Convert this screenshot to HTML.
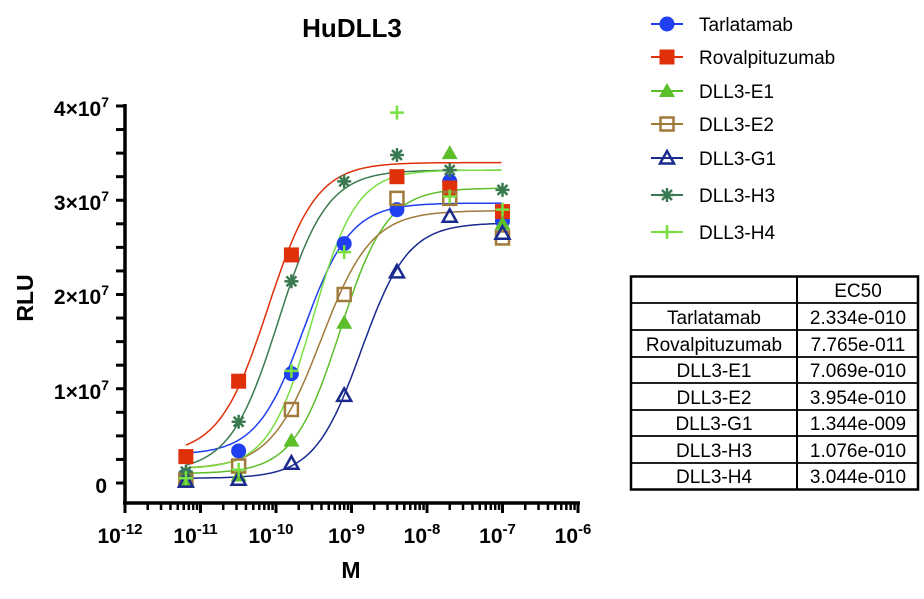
<!DOCTYPE html>
<html><head><meta charset="utf-8"><style>
body{margin:0;background:#fff;width:924px;height:594px;overflow:hidden;font-family:"Liberation Sans",Arial,sans-serif}
</style></head><body>
<svg id="s" width="924" height="594" xmlns="http://www.w3.org/2000/svg" font-family="Liberation Sans, Arial, sans-serif">
<text x="352" y="37" font-size="26" font-weight="bold" text-anchor="middle">HuDLL3</text>
<g id="axes" stroke="#000" stroke-width="3.5" fill="none"></g>
<g font-size="21" font-weight="bold" text-anchor="end">
<text x="109" y="116">4×10<tspan dy="-9" font-size="14">7</tspan></text>
<text x="109" y="210">3×10<tspan dy="-9" font-size="14">7</tspan></text>
<text x="109" y="304">2×10<tspan dy="-9" font-size="14">7</tspan></text>
<text x="109" y="399">1×10<tspan dy="-9" font-size="14">7</tspan></text>
<text x="107" y="493">0</text>
</g>
<text transform="translate(33,298) rotate(-90)" font-size="23" font-weight="bold" text-anchor="middle">RLU</text>
<g font-size="21" font-weight="bold" text-anchor="middle" id="xl"></g>
<text x="351" y="578" font-size="23" font-weight="bold" text-anchor="middle">M</text>
<g id="plot"></g>
<g id="leg" font-size="19">
<text x="699" y="31">Tarlatamab</text>
<text x="699" y="64">Rovalpituzumab</text>
<text x="699" y="98">DLL3-E1</text>
<text x="699" y="131">DLL3-E2</text>
<text x="699" y="165">DLL3-G1</text>
<text x="699" y="202">DLL3-H3</text>
<text x="699" y="239">DLL3-H4</text>
</g>
<g stroke="#000" fill="none">
<rect x="631" y="276.5" width="287" height="213" stroke-width="2.5"/>
<line x1="797" y1="276" x2="797" y2="490" stroke-width="2"/>
<path d="M631 303H918M631 330H918M631 357H918M631 383H918M631 410H918M631 436H918M631 463H918" stroke-width="1.8"/>
</g>
<g font-size="19" text-anchor="middle">
<text x="858" y="297">EC50</text>
<text x="714" y="324">Tarlatamab</text><text x="858" y="324">2.334e-010</text>
<text x="714" y="351">Rovalpituzumab</text><text x="858" y="351">7.765e-011</text>
<text x="714" y="377">DLL3-E1</text><text x="858" y="377">7.069e-010</text>
<text x="714" y="404">DLL3-E2</text><text x="858" y="404">3.954e-010</text>
<text x="714" y="430">DLL3-G1</text><text x="858" y="430">1.344e-009</text>
<text x="714" y="457">DLL3-H3</text><text x="858" y="457">1.076e-010</text>
<text x="714" y="483">DLL3-H4</text><text x="858" y="483">3.044e-010</text>
</g>
</svg>
<script>
var NS="http://www.w3.org/2000/svg";
function el(p,t,a){var e=document.createElementNS(NS,t);for(var k in a)e.setAttribute(k,a[k]);p.appendChild(e);return e;}
var X0=125,DX=75.5,Y0=483,DY=94.25;
function X(l){return X0+(l+12)*DX;}function Y(v){return Y0-v*DY;}
var ax=document.getElementById('axes');
el(ax,'path',{d:"M125 104V505M123 503H580"});
for(var i=0;i<=16;i++){var y=Y0-i*DY/4;el(ax,'line',{x1:116,x2:125,y1:y,y2:y,"stroke-width":3});}
var xl=document.getElementById('xl');
for(var d=-12;d<=-6;d++){var x=X(d);el(ax,'line',{x1:x,x2:x,y1:503,y2:513,"stroke-width":3});
 var t=el(xl,'text',{x:x-5,y:543});t.textContent="10";var s=el(t,'tspan',{dy:-9,"font-size":15});s.textContent=String(d);
 if(d<-6)for(var m=2;m<=9;m++){var xx=x+Math.log10(m)*DX;el(ax,'line',{x1:xx,x2:xx,y1:503,y2:510,"stroke-width":2.5});}}
var xs=[6.4e-12,3.2e-11,1.6e-10,8e-10,4e-9,2e-8,1e-7].map(Math.log10);
var S=[
 {c:"#1f3ff0",m:"circle",bot:0.3,top:2.97,ec:2.334e-10,h:1.4,d:[0.08,0.34,1.16,2.54,2.9,3.2,2.78]},
 {c:"#e0300a",m:"square",bot:0.3,top:3.40,ec:7.765e-11,h:1.35,d:[0.28,1.08,2.42,null,3.25,3.13,2.88]},
 {c:"#5cbf2a",m:"tri",bot:0.1,top:3.13,ec:7.069e-10,h:1.4,d:[0.02,0.08,0.45,1.7,null,3.5,2.75]},
 {c:"#a07a3a",m:"osq",bot:0.15,top:2.89,ec:3.954e-10,h:1.3,d:[0.03,0.18,0.78,2.0,3.02,3.02,2.6]},
 {c:"#1a2a8f",m:"otri",bot:0.05,top:2.76,ec:1.344e-9,h:1.4,d:[0.02,0.04,0.21,0.93,2.24,2.83,2.65]},
 {c:"#3b7a50",m:"ast",bot:0.12,top:3.32,ec:1.076e-10,h:1.35,d:[0.12,0.65,2.14,3.2,3.48,3.32,3.11]},
 {c:"#78e040",m:"plus",bot:0.15,top:3.32,ec:3.044e-10,h:1.5,d:[0.05,0.14,1.19,2.45,3.93,3.04,2.9]}];
var P=document.getElementById('plot');
function mk(g,s,x,y){var c=s.c;
 if(s.m=="circle")el(g,'circle',{cx:x,cy:y,r:7.5,fill:c});
 else if(s.m=="square")el(g,'rect',{x:x-7.5,y:y-7.5,width:15,height:15,fill:c});
 else if(s.m=="osq")el(g,'rect',{x:x-6.5,y:y-6.5,width:13,height:13,fill:"none",stroke:c,"stroke-width":2.5});
 else if(s.m=="tri")el(g,'path',{d:"M"+x+" "+(y-8)+"L"+(x+8)+" "+(y+6)+"L"+(x-8)+" "+(y+6)+"Z",fill:c});
 else if(s.m=="otri")el(g,'path',{d:"M"+x+" "+(y-7)+"L"+(x+7)+" "+(y+5.5)+"L"+(x-7)+" "+(y+5.5)+"Z",fill:"none",stroke:c,"stroke-width":2.5});
 else if(s.m=="ast"){for(var a=0;a<4;a++){var an=a*Math.PI/4,dx=7*Math.cos(an),dy=7*Math.sin(an);el(g,'line',{x1:x-dx,y1:y-dy,x2:x+dx,y2:y+dy,stroke:c,"stroke-width":2.5});}}
 else {el(g,'path',{d:"M"+(x-7)+" "+y+"H"+(x+7)+"M"+x+" "+(y-7)+"V"+(y+7),stroke:c,"stroke-width":2.5});}}
S.forEach(function(s){var le=Math.log10(s.ec),d="";
 for(var l=xs[0];l<=-7.0001+0.0001;l+=0.02){var v=s.bot+(s.top-s.bot)/(1+Math.pow(10,(le-l)*s.h));d+=(d?"L":"M")+X(l).toFixed(1)+" "+Y(v).toFixed(1);}
 el(P,'path',{d:d,fill:"none",stroke:s.c,"stroke-width":1.5});});
S.forEach(function(s){s.d.forEach(function(v,i){if(v!=null)mk(P,s,X(xs[i]),Y(v));});});
var LG=document.getElementById('leg'),ly=[24,57,91,124,158,195,232];
S.forEach(function(s,i){el(LG,'line',{x1:651,x2:683,y1:ly[i],y2:ly[i],stroke:s.c,"stroke-width":2});mk(LG,s,667,ly[i]);});
</script>
</body></html>
